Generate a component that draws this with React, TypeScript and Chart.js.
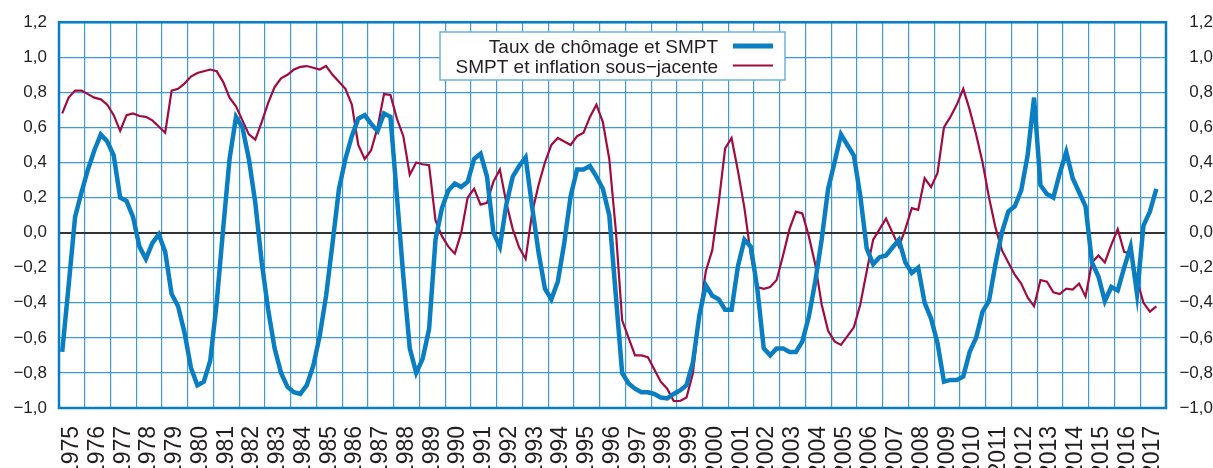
import React, { useEffect, useRef } from 'react';
import { Chart, registerables } from 'chart.js';

Chart.register(...registerables);

const START_YEAR = 1975;

const YEAR_LABELS = [
  '1975', '1976', '1977', '1978', '1979', '1980', '1981', '1982', '1983', '1984',
  '1985', '1986', '1987', '1988', '1989', '1990', '1991', '1992', '1993', '1994',
  '1995', '1996', '1997', '1998', '1999', '2000', '2001', '2002', '2003', '2004',
  '2005', '2006', '2007', '2008', '2009', '2010', '2011', '2012', '2013', '2014',
  '2015', '2016', '2017',
];

const Y_TICKS = [-1.0, -0.8, -0.6, -0.4, -0.2, 0.0, 0.2, 0.4, 0.6, 0.8, 1.0, 1.2];

const LEGEND_LABELS = ['Taux de chômage et SMPT', 'SMPT et inflation sous\u2212jacente'];

// Quarterly values, 1975 T1 -> 2017 T3
const CHOMAGE_SMPT = [
  -0.68, -0.30, 0.09, 0.23, 0.36, 0.47, 0.56, 0.52, 0.44, 0.20,
  0.18, 0.09, -0.08, -0.15, -0.06, -0.01, -0.11, -0.35, -0.42, -0.57,
  -0.77, -0.87, -0.85, -0.73, -0.40, 0.02, 0.42, 0.66, 0.60, 0.42,
  0.17, -0.17, -0.44, -0.66, -0.80, -0.88, -0.91, -0.92, -0.87, -0.76,
  -0.59, -0.36, -0.06, 0.25, 0.42, 0.55, 0.65, 0.67, 0.62, 0.58,
  0.68, 0.66, 0.21, -0.25, -0.66, -0.80, -0.72, -0.55, -0.04, 0.14,
  0.24, 0.28, 0.26, 0.29, 0.42, 0.45, 0.32, 0.00, -0.08, 0.16,
  0.32, 0.38, 0.43, 0.15, -0.11, -0.32, -0.38, -0.28, -0.06, 0.21,
  0.36, 0.36, 0.38, 0.32, 0.25, 0.10, -0.35, -0.80, -0.86, -0.89,
  -0.91, -0.91, -0.92, -0.94, -0.945, -0.92, -0.90, -0.87, -0.74, -0.47,
  -0.30, -0.36, -0.38, -0.44, -0.44, -0.19, -0.04, -0.08, -0.32, -0.66,
  -0.70, -0.66, -0.66, -0.68, -0.68, -0.62, -0.48, -0.28, -0.04, 0.25,
  0.40, 0.56, 0.50, 0.44, 0.21, -0.09, -0.18, -0.14, -0.13, -0.085,
  -0.04, -0.17, -0.23, -0.20, -0.40, -0.49, -0.63, -0.85, -0.84, -0.84,
  -0.82, -0.68, -0.60, -0.45, -0.39, -0.18, 0.00, 0.12, 0.15, 0.24,
  0.44, 0.77, 0.27, 0.22, 0.20, 0.34, 0.46, 0.31, 0.23, 0.15,
  -0.17, -0.25, -0.39, -0.31, -0.33, -0.20, -0.08, -0.35, 0.04, 0.12,
  0.25,
];

const SMPT_INFLATION = [
  0.68, 0.77, 0.81, 0.81, 0.79, 0.77, 0.76, 0.73, 0.67, 0.58,
  0.67, 0.68, 0.665, 0.66, 0.64, 0.605, 0.57, 0.81, 0.82, 0.85,
  0.89, 0.91, 0.92, 0.93, 0.92, 0.86, 0.77, 0.72, 0.64, 0.56,
  0.53, 0.63, 0.74, 0.83, 0.88, 0.90, 0.93, 0.945, 0.95, 0.94,
  0.93, 0.95, 0.90, 0.86, 0.82, 0.73, 0.50, 0.42, 0.47, 0.60,
  0.79, 0.785, 0.65, 0.55, 0.33, 0.40, 0.39, 0.385, 0.07, -0.02,
  -0.08, -0.12, 0.00, 0.20, 0.25, 0.16, 0.17, 0.29, 0.36, 0.17,
  0.02, -0.085, -0.15, 0.11, 0.27, 0.40, 0.50, 0.54, 0.52, 0.50,
  0.55, 0.57, 0.66, 0.73, 0.63, 0.42, 0.02, -0.50, -0.60, -0.70,
  -0.70, -0.71, -0.78, -0.85, -0.89, -0.96, -0.96, -0.94, -0.80, -0.47,
  -0.22, -0.10, 0.17, 0.48, 0.54, 0.35, 0.14, -0.13, -0.31, -0.32,
  -0.31, -0.27, -0.13, 0.02, 0.12, 0.11, -0.02, -0.18, -0.41, -0.56,
  -0.62, -0.64, -0.59, -0.54, -0.41, -0.22, -0.04, 0.02, 0.08, 0.00,
  -0.08, 0.02, 0.14, 0.13, 0.31, 0.26, 0.34, 0.60, 0.66, 0.73,
  0.82, 0.70, 0.56, 0.40, 0.20, 0.03, -0.10, -0.17, -0.24, -0.29,
  -0.37, -0.42, -0.27, -0.28, -0.34, -0.35, -0.32, -0.325, -0.29, -0.365,
  -0.17, -0.13, -0.17, -0.07, 0.02, -0.11, -0.12, -0.27, -0.40, -0.45,
  -0.42,
];

const BLUE = '#0a7ec2';
const RED = '#a20b3d';
const GRID = '#3f9bd8';
const FRAME = '#0a7ec2';
const TEXT = '#231f20';
const FONT = "'Liberation Sans', Arial, Helvetica, sans-serif";

const fmtY = (v: number) => {
  const s = Math.abs(v).toFixed(1).replace('.', ',');
  return v < -1e-9 ? '\u2212' + s : s;
};

const framePlugin = {
  id: 'frameAndLegend',
  afterDraw(chart: any) {
    const { ctx, chartArea } = chart;
    ctx.save();
    // frame
    ctx.strokeStyle = FRAME;
    ctx.lineWidth = 2.5;
    ctx.strokeRect(chartArea.left, chartArea.top, chartArea.right - chartArea.left, chartArea.bottom - chartArea.top);

    // legend box
    const bx = 440, by = 32, bw = 345, bh = 48;
    ctx.fillStyle = '#ffffff';
    ctx.fillRect(bx, by, bw, bh);
    ctx.strokeStyle = '#6ab4e4';
    ctx.lineWidth = 1.5;
    ctx.strokeRect(bx, by, bw, bh);

    ctx.font = `19px ${FONT}`;
    ctx.fillStyle = TEXT;
    ctx.textAlign = 'right';
    ctx.textBaseline = 'alphabetic';
    const colors = [BLUE, RED];
    const widths = [5, 2.2];
    const rowY = [46, 65.5];
    LEGEND_LABELS.forEach((lab, k) => {
      ctx.fillText(lab, 718, rowY[k] + 7);
      ctx.strokeStyle = colors[k];
      ctx.lineWidth = widths[k];
      ctx.beginPath();
      ctx.moveTo(733, rowY[k]);
      ctx.lineTo(773, rowY[k]);
      ctx.stroke();
    });
    ctx.restore();
  },
};

export default function App() {
  const ref = useRef<HTMLCanvasElement>(null);

  useEffect(() => {
    document.body.style.margin = '0';
    const toPoints = (arr: number[]) => arr.map((v, i) => ({ x: START_YEAR + (i + 0.5) / 4, y: v }));
    const yTicks = (s: any) => {
      s.ticks = Y_TICKS.map((v) => ({ value: v }));
    };
    const chart = new Chart(ref.current as HTMLCanvasElement, {
      type: 'line',
      data: {
        datasets: [
          {
            label: LEGEND_LABELS[1],
            data: toPoints(SMPT_INFLATION),
            borderColor: RED,
            borderWidth: 2.2,
            pointRadius: 0,
            tension: 0,
            fill: false,
            order: 2,
          },
          {
            label: LEGEND_LABELS[0],
            data: toPoints(CHOMAGE_SMPT),
            borderColor: BLUE,
            borderWidth: 4.5,
            pointRadius: 0,
            tension: 0,
            fill: false,
            order: 1,
          },
        ],
      },
      options: {
        animation: false,
        responsive: false,
        layout: { padding: { top: 20, left: 0, right: 0, bottom: 0 } },
        plugins: { legend: { display: false }, tooltip: { enabled: false }, title: { display: false } },
        scales: {
          x: {
            type: 'linear',
            min: START_YEAR,
            max: START_YEAR + YEAR_LABELS.length,
            afterBuildTicks: (s: any) => {
              const t: any[] = [];
              YEAR_LABELS.forEach((_, k) => {
                t.push({ value: START_YEAR + k });
                t.push({ value: START_YEAR + k + 0.5 });
              });
              t.push({ value: START_YEAR + YEAR_LABELS.length });
              s.ticks = t;
            },
            afterFit: (s: any) => {
              s.height = 60;
            },
            grid: {
              color: (c: any) => (c.tick && Number.isInteger(c.tick.value) ? GRID : 'rgba(0,0,0,0)'),
              lineWidth: 1.2,
              drawTicks: false,
            },
            border: { display: false },
            ticks: {
              autoSkip: false,
              minRotation: 90,
              maxRotation: 90,
              padding: 18,
              color: TEXT,
              font: { family: FONT, size: 23 },
              callback: (v: any) => {
                const n = Number(v);
                if (Number.isInteger(n)) return '';
                return YEAR_LABELS[Math.floor(n) - START_YEAR] ?? '';
              },
            },
          },
          y: {
            position: 'left',
            min: -1,
            max: 1.2,
            afterBuildTicks: yTicks,
            afterFit: (s: any) => {
              s.width = 59;
            },
            grid: {
              color: (c: any) => (c.tick && Math.abs(c.tick.value) < 1e-9 ? '#333333' : GRID),
              lineWidth: (c: any) => (c.tick && Math.abs(c.tick.value) < 1e-9 ? 2 : 1.2),
              drawTicks: false,
            },
            border: { display: false },
            ticks: {
              padding: 12,
              color: TEXT,
              font: { family: FONT, size: 17 },
              callback: (v: any) => fmtY(Number(v)),
            },
          },
          y2: {
            position: 'right',
            min: -1,
            max: 1.2,
            afterBuildTicks: yTicks,
            afterFit: (s: any) => {
              s.width = 47;
            },
            grid: { display: false, drawTicks: false },
            border: { display: false },
            ticks: {
              padding: 12,
              crossAlign: 'far',
              color: TEXT,
              font: { family: FONT, size: 17 },
              callback: (v: any) => fmtY(Number(v)),
            },
          },
        },
      } as any,
      plugins: [framePlugin],
    });
    return () => chart.destroy();
  }, []);

  return (
    <div style={{ position: 'fixed', left: 0, top: 0, width: 1213, height: 468, background: '#ffffff' }}>
      <canvas ref={ref} width={1213} height={468} style={{ display: 'block' }} />
    </div>
  );
}
